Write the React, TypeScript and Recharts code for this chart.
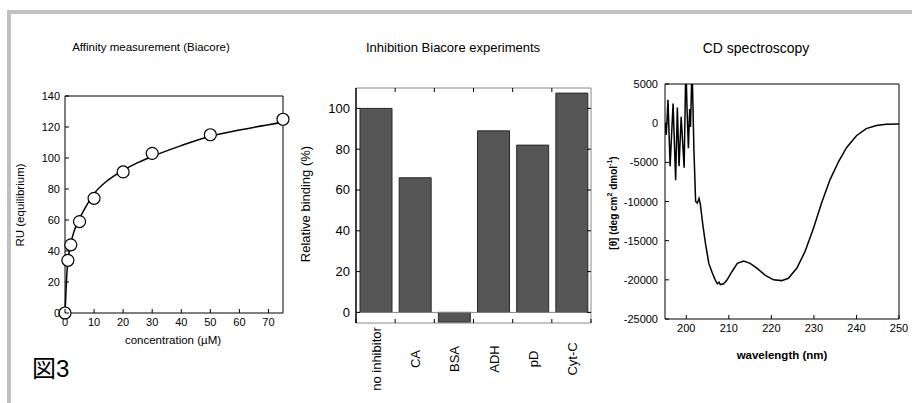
import React from 'react'
import {
  ComposedChart,
  LineChart,
  Line,
  Bar,
  Scatter,
  XAxis,
  YAxis,
  ReferenceLine,
} from 'recharts'

// --- affinity (Biacore) ---
const concPoints = [0, 1, 2, 5, 10, 20, 30, 50, 75]
const ruPoints = [0, 34, 44, 59, 74, 91, 103, 115, 125]
const fitConc = [0, 0.3, 0.6, 1, 1.5, 2, 3, 4, 5, 7, 10, 15, 20, 25, 30, 40, 50, 60, 75]
const fitRu = [0, 12, 24, 34, 40, 45, 52, 57, 61, 68, 77, 86, 92, 97, 101, 108, 114, 118, 123]
const concTicks = [0, 10, 20, 30, 40, 50, 60, 70]
const ruTicks = [0, 20, 40, 60, 80, 100, 120, 140]

// --- inhibition ---
const inhibitors = ['no inhibitor', 'CA', 'BSA', 'ADH', 'pD', 'Cyt-C']
const binding = [100, 66, -4.8, 89, 82, 107.5]
const bindingTicks = [0, 20, 40, 60, 80, 100]

// --- CD spectrum ---
const wavelength = [
  195, 195.3, 195.7, 196.2, 196.9, 197.5, 197.9, 198.3, 198.8, 199.1, 199.5, 199.9,
  200.2, 200.5, 200.8, 201.0, 201.35, 201.8, 202.2, 202.6, 203.0, 203.3, 203.9, 204.5,
  205.3, 206.1, 206.8, 207.3, 207.7, 208.0, 208.8, 209.6, 210.8, 212.0, 213.5, 215.0,
  216.6, 218.5, 220.5, 222.4, 224.0, 226.0, 227.9, 229.9, 231.8, 233.8, 235.8, 237.7,
  240.0, 242.3, 244.7, 247.0, 250.0,
]
const ellipticity = [
  0, -1500, 3000, -5500, 2500, -7300, 2000, -5500, 800, -2000, -5700, 7500,
  1500, -3200, 1800, -500, 7500, -3500, -10000, -10200, -9600, -10300, -13000, -15300,
  -17900, -19100, -20000, -20500, -20300, -20600, -20500, -20000, -18900, -17900, -17600, -17900,
  -18500, -19400, -20000, -20100, -19800, -18500, -16400, -13400, -10200, -7200, -4900, -3100,
  -1600, -700, -300, -150, -100,
]
const wlTicks = [200, 210, 220, 230, 240, 250]
const cdTicks = [-25000, -20000, -15000, -10000, -5000, 0, 5000]

const points = concPoints.map((x, i) => ({ x, y: ruPoints[i] }))
const fit = fitConc.map((x, i) => ({ x, y: fitRu[i] }))
const bars = inhibitors.map((name, i) => ({ x: i + 0.5, name, v: binding[i] }))
const cd = wavelength.map((w, i) => ({ w, v: ellipticity[i] }))

const barTicks: number[] = []
for (let i = 0; i <= inhibitors.length * 2; i++) barTicks.push(i / 2)
const edgeTicks = barTicks.filter((t) => Number.isInteger(t) && t > 0 && t < inhibitors.length)

const LeftTick = ({ x, y, payload, fs = 11, gap = 4 }: any) => (
  <g>
    <line x1={x} x2={x + 4} y1={y} y2={y} stroke="#000" />
    <text x={x - gap} y={y} textAnchor="end" dominantBaseline="central" fontSize={fs} fill="#000">
      {payload.value}
    </text>
  </g>
)

const RightTick = ({ x, y }: any) => <line x1={x} x2={x - 4} y1={y} y2={y} stroke="#000" />

const TopTick = ({ x, y }: any) => <line x1={x} x2={x} y1={y} y2={y + 4} stroke="#000" />

const BottomTick = ({ x, y, payload, fs = 11, gap = 9 }: any) => (
  <g>
    <line x1={x} x2={x} y1={y} y2={y - 4} stroke="#000" />
    <text x={x} y={y + gap} textAnchor="middle" dominantBaseline="central" fontSize={fs} fill="#000">
      {payload.value}
    </text>
  </g>
)

const CategoryTick = ({ x, y, payload }: any) => {
  const v = payload.value
  if (Number.isInteger(v)) {
    return <line x1={x} x2={x} y1={y} y2={y - 4} stroke="#000" />
  }
  const label = inhibitors[Math.floor(v)]
  return (
    <text
      transform={`translate(${x + 1},${y + 36}) rotate(-90)`}
      textAnchor="middle"
      dominantBaseline="central"
      fontSize={13}
      fill="#000"
    >
      {label}
    </text>
  )
}

const Circle = (p: any) => (
  <circle cx={p.cx} cy={p.cy} r={6} fill="#fff" stroke="#000" strokeWidth={1.2} />
)

export default function App() {
  return (
    <div
      style={{
        position: 'absolute',
        left: 0,
        top: 0,
        width: 912,
        height: 403,
        background: '#fff',
        fontFamily: '"Liberation Sans", Arial, sans-serif',
        overflow: 'hidden',
      }}
    >
      <div style={{ position: 'absolute', left: 7, top: 10, width: 905, height: 4, background: '#c0c0c0' }} />
      <div style={{ position: 'absolute', left: 7, top: 10, width: 4, height: 393, background: '#c0c0c0' }} />

      <div style={{ position: 'absolute', left: 0, top: 80 }}>
        <ComposedChart width={300} height={260} margin={{ top: 16, right: 17, left: 0, bottom: 0 }}>
          <XAxis
            dataKey="x"
            type="number"
            domain={[0, 75]}
            ticks={concTicks}
            height={27}
            tickSize={0}
            tickMargin={0}
            tickLine={false}
            axisLine={{ stroke: '#000' }}
            tick={<BottomTick fs={11} />}
            interval={0}
          />
          <YAxis
            type="number"
            domain={[0, 140]}
            ticks={ruTicks}
            width={65}
            tickSize={0}
            tickMargin={0}
            tickLine={false}
            axisLine={{ stroke: '#000' }}
            tick={<LeftTick fs={11} gap={5} />}
            interval={0}
          />
          <ReferenceLine x={75} stroke="#000" />
          <ReferenceLine y={140} stroke="#000" />
          <Line
            data={fit}
            dataKey="y"
            type="monotone"
            stroke="#000"
            strokeWidth={1.5}
            dot={false}
            activeDot={false}
            isAnimationActive={false}
          />
          <Scatter data={points} dataKey="y" shape={<Circle />} isAnimationActive={false} />
        </ComposedChart>
      </div>

      <div style={{ position: 'absolute', left: 290, top: 80 }}>
        <ComposedChart width={310} height={320} data={bars} margin={{ top: 7, right: 8, left: 0, bottom: 0 }}>
          <XAxis
            dataKey="x"
            type="number"
            domain={[0, 6]}
            ticks={barTicks}
            height={77}
            tickSize={0}
            tickMargin={0}
            tickLine={false}
            axisLine={{ stroke: '#888' }}
            tick={<CategoryTick />}
            interval={0}
          />
          <XAxis
            xAxisId="t"
            dataKey="x"
            orientation="top"
            type="number"
            domain={[0, 6]}
            ticks={edgeTicks}
            height={1}
            tickSize={0}
            tickMargin={0}
            tickLine={false}
            axisLine={{ stroke: '#888' }}
            tick={<TopTick />}
            interval={0}
          />
          <YAxis
            type="number"
            domain={[-5.2, 110]}
            allowDataOverflow
            ticks={bindingTicks}
            width={66}
            tickSize={0}
            tickMargin={0}
            tickLine={false}
            axisLine={{ stroke: '#000', strokeWidth: 1.5 }}
            tick={<LeftTick fs={13} gap={6} />}
            interval={0}
          />
          <YAxis
            yAxisId="r"
            orientation="right"
            type="number"
            domain={[-5.2, 110]}
            allowDataOverflow
            ticks={bindingTicks}
            width={1}
            tickSize={0}
            tickMargin={0}
            tickLine={false}
            axisLine={{ stroke: '#888' }}
            tick={<RightTick />}
            interval={0}
          />
          <ReferenceLine y={0} stroke="#888" />
          <Bar dataKey="v" barSize={32} fill="#555" stroke="#2a2a2a" strokeWidth={1} isAnimationActive={false} />
          {/* invisible series so the top and right frame axes get drawn */}
          <Line
            xAxisId="t"
            yAxisId="r"
            dataKey="v"
            stroke="none"
            dot={false}
            activeDot={false}
            legendType="none"
            isAnimationActive={false}
          />
        </ComposedChart>
      </div>

      <div style={{ position: 'absolute', left: 580, top: 70 }}>
        <LineChart width={332} height={270} data={cd} margin={{ top: 14, right: 13, left: 0, bottom: 0 }}>
          <XAxis
            dataKey="w"
            type="number"
            domain={[195, 250]}
            allowDataOverflow
            ticks={wlTicks}
            height={21}
            tickSize={0}
            tickMargin={0}
            tickLine={false}
            axisLine={{ stroke: '#000' }}
            tick={<BottomTick fs={11} gap={9} />}
            interval={0}
          />
          <YAxis
            type="number"
            domain={[-25000, 5000]}
            allowDataOverflow
            ticks={cdTicks}
            width={85}
            tickSize={0}
            tickMargin={0}
            tickLine={false}
            axisLine={{ stroke: '#000' }}
            tick={<LeftTick fs={11} gap={7} />}
            interval={0}
          />
          <ReferenceLine x={250} stroke="#000" />
          <ReferenceLine y={5000} stroke="#000" />
          <Line
            dataKey="v"
            type="linear"
            stroke="#000"
            strokeWidth={1.5}
            dot={false}
            activeDot={false}
            isAnimationActive={false}
          />
        </LineChart>
      </div>

      <svg
        width={912}
        height={403}
        style={{ position: 'absolute', left: 0, top: 0, pointerEvents: 'none' }}
      >
        <g fill="#000">
          <text x={151} y={47} textAnchor="middle" dominantBaseline="central" fontSize={11.5}>
            Affinity measurement (Biacore)
          </text>
          <text x={453} y={47} textAnchor="middle" dominantBaseline="central" fontSize={13}>
            Inhibition Biacore experiments
          </text>
          <text x={756} y={48} textAnchor="middle" dominantBaseline="central" fontSize={14}>
            CD spectroscopy
          </text>
          <text
            transform="translate(20,205) rotate(-90)"
            textAnchor="middle"
            dominantBaseline="central"
            fontSize={11.5}
          >
            RU (equilibrium)
          </text>
          <text x={173} y={340} textAnchor="middle" dominantBaseline="central" fontSize={11.5}>
            concentration (µM)
          </text>
          <text
            transform="translate(305,204) rotate(-90)"
            textAnchor="middle"
            dominantBaseline="central"
            fontSize={13}
          >
            Relative binding (%)
          </text>
          <text
            transform="translate(613,203) rotate(-90)"
            textAnchor="middle"
            dominantBaseline="central"
            fontSize={10}
            fontWeight="bold"
          >
            [θ] (deg cm
            <tspan fontSize={7} dy={-4}>2</tspan>
            <tspan dy={4}> dmol</tspan>
            <tspan fontSize={7} dy={-4}>-1</tspan>
            <tspan dy={4}>)</tspan>
          </text>
          <text x={782} y={355} textAnchor="middle" dominantBaseline="central" fontSize={11.5} fontWeight="bold">
            wavelength (nm)
          </text>
          <text
            x={32}
            y={368}
            dominantBaseline="central"
            fontSize={24}
            fontFamily='"Liberation Sans", "Noto Sans CJK JP", sans-serif'
          >
            図3
          </text>
        </g>
      </svg>
    </div>
  )
}
